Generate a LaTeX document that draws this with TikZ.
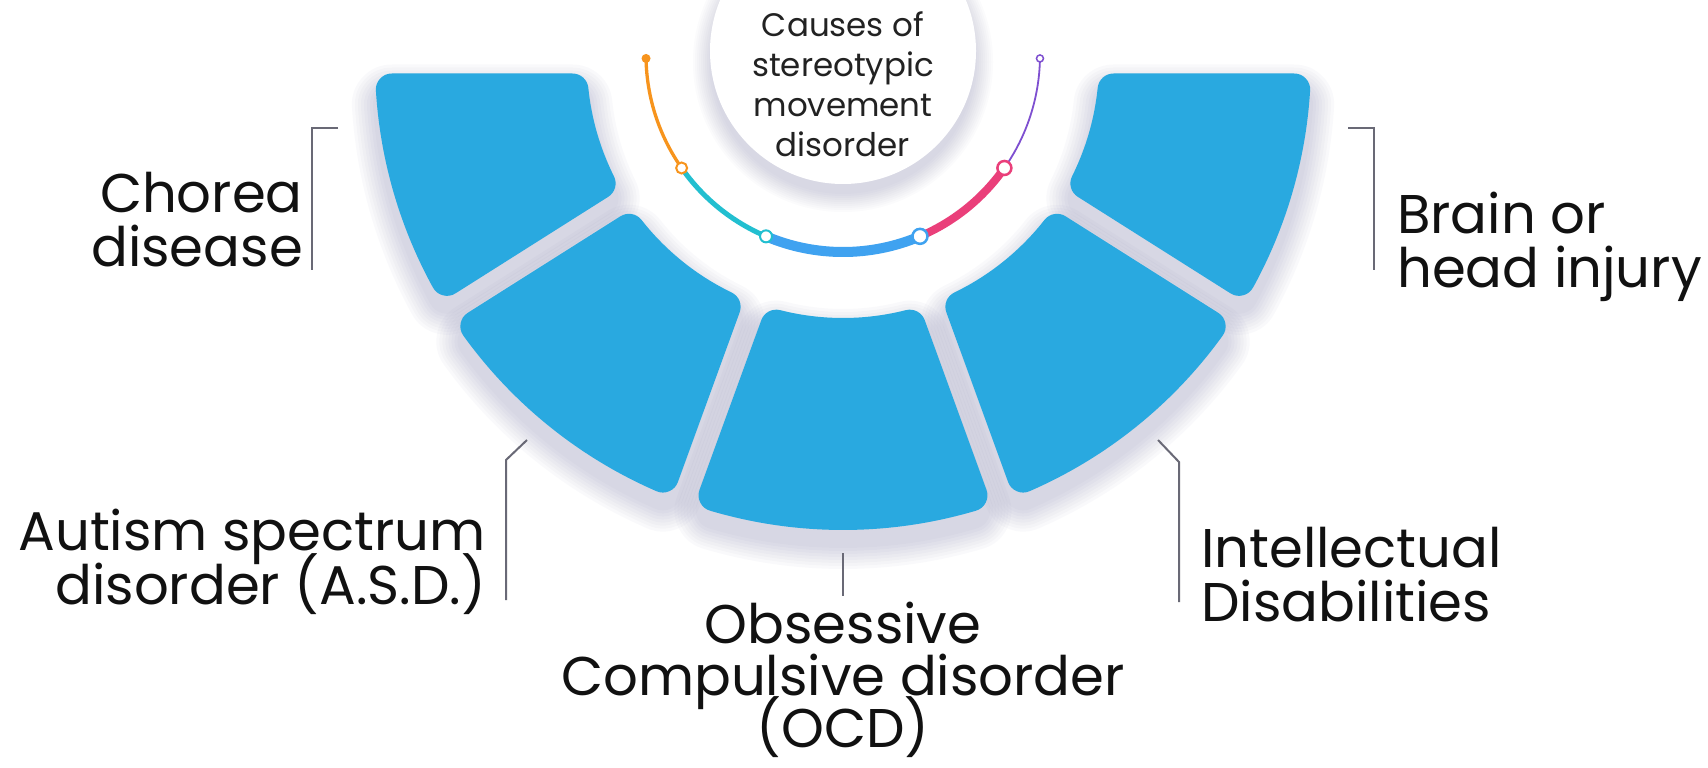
\documentclass[tikz,border=0pt]{standalone}
\usepackage{fontspec}
\setmainfont{Poppins}
\definecolor{segblue}{RGB}{41,169,224}
\definecolor{shadowcol}{RGB}{95,95,150}
\definecolor{labeltext}{RGB}{17,17,17}
\definecolor{centertext}{RGB}{34,34,34}
\definecolor{bracketgray}{RGB}{105,105,118}
\definecolor{orangec}{RGB}{247,148,29}
\definecolor{tealc}{RGB}{34,191,208}
\definecolor{bluec}{RGB}{63,162,240}
\definecolor{pinkc}{RGB}{234,63,122}
\definecolor{purplec}{RGB}{126,79,208}
\newcommand\linesR[1]{\vtop{\lineskiplimit=-100pt\halign{\hfil##\cr#1\crcr}}}
\newcommand\linesL[1]{\vtop{\lineskiplimit=-100pt\halign{##\hfil\cr#1\crcr}}}
\newcommand\linesC[1]{\vtop{\lineskiplimit=-100pt\halign{\hfil##\hfil\cr#1\crcr}}}
\begin{document}
\begin{tikzpicture}[x=1pt,y=-1pt,
  seg/.style={fill=segblue, draw=segblue, line width=32pt, line join=round},
  lbl/.style={inner sep=0pt, text=labeltext, font=\fontsize{54.5}{54}\selectfont},
  bracket/.style={draw=bracketgray, line width=2pt},
  ringdot/.style={circle, fill=white, inner sep=0pt, draw=#1}]
\fill[white] (0,0) rectangle (1708,768);
\useasboundingbox (0,0) rectangle (1708,768);

% ---- central circle with soft shadow
\foreach \k in {1,...,10}{
  \fill[shadowcol, opacity=0.025] (843,62) circle[radius={130+2*\k}];
}
\fill[white] (843,51) circle[radius=133];

% ---- fan segments
\def\cx{843}\def\cy{62}
\pgfmathsetmacro\Ro{468-16}
\pgfmathsetmacro\Ri{256+16}
\def\dd{27.5}
\pgfmathsetmacro\dO{asin(\dd/\Ro)}
\pgfmathsetmacro\dI{asin(\dd/\Ri)}
\def\seglist{147.7/180,110/147.7,70/110,32.3/70,0/32.3}
\foreach \a/\b in \seglist{
  \pgfmathsetmacro\oA{\a+\dO}
  \pgfmathsetmacro\oB{\b-\dO}
  \pgfmathsetmacro\iA{\a+\dI}
  \pgfmathsetmacro\iB{\b-\dI}
  \foreach \k in {1,...,8}{
    \pgfmathsetmacro\lw{32+6*\k}
    \draw[shadowcol, opacity=0.03, line width=\lw pt, line join=round, shift={(0,15)}]
      ([shift={(\cx,\cy)}]\oA:\Ro) arc[start angle=\oA, end angle=\oB, radius=\Ro]
      -- ([shift={(\cx,\cy)}]\iB:\Ri) arc[start angle=\iB, end angle=\iA, radius=\Ri] -- cycle;
  }
}
\foreach \a/\b in \seglist{
  \pgfmathsetmacro\oA{\a+\dO}
  \pgfmathsetmacro\oB{\b-\dO}
  \pgfmathsetmacro\iA{\a+\dI}
  \pgfmathsetmacro\iB{\b-\dI}
  \filldraw[seg]
    ([shift={(\cx,\cy)}]\oA:\Ro) arc[start angle=\oA, end angle=\oB, radius=\Ro]
    -- ([shift={(\cx,\cy)}]\iB:\Ri) arc[start angle=\iB, end angle=\iA, radius=\Ri] -- cycle;
}

% ---- coloured arc
\def\ax{843}\def\ay{55}\def\ar{197}
\draw[orangec, line width=3.3pt] ([shift={(\ax,\ay)}]145:\ar) arc[start angle=145, end angle=179, radius=\ar];
\draw[tealc, line width=5pt] ([shift={(\ax,\ay)}]113:\ar) arc[start angle=113, end angle=145, radius=\ar];
\draw[bluec, line width=10pt] ([shift={(\ax,\ay)}]67:\ar) arc[start angle=67, end angle=113, radius=\ar];
\draw[pinkc, line width=8pt] ([shift={(\ax,\ay)}]35:\ar) arc[start angle=35, end angle=67, radius=\ar];
\draw[purplec, line width=1.8pt] ([shift={(\ax,\ay)}]1:\ar) arc[start angle=1, end angle=35, radius=\ar];
\node[circle, fill=orangec, inner sep=0pt, minimum size=9pt] (m0) at ([shift={(\ax,\ay)}]179:\ar) {};
\node[ringdot=orangec, line width=2pt, minimum size=11pt] (m1) at ([shift={(\ax,\ay)}]145:\ar) {};
\node[ringdot=tealc, line width=2pt, minimum size=12pt] (m2) at ([shift={(\ax,\ay)}]113:\ar) {};
\node[ringdot=bluec, line width=2.5pt, minimum size=15pt] (m3) at ([shift={(\ax,\ay)}]67:\ar) {};
\node[ringdot=pinkc, line width=2.5pt, minimum size=14pt] (m4) at ([shift={(\ax,\ay)}]35:\ar) {};
\node[ringdot=purplec, line width=1.5pt, minimum size=7pt] (m5) at ([shift={(\ax,\ay)}]1:\ar) {};

% ---- centre title
\node[inner sep=0pt, anchor=base, text=centertext, font=\fontsize{32.5}{40}\selectfont] (title) at (843,37)
  {\linesC{Causes of\cr stereotypic\cr movement\cr disorder}};

% ---- labels
\node[lbl, anchor=base east] (chorea) at (303,212) {\linesR{Chorea\cr disease}};
\node[lbl, anchor=base west] (brain) at (1397,233) {\linesL{Brain or\cr head injury}};
\node[lbl, anchor=base east] (autism) at (486,550) {\linesR{Autism spectrum\cr disorder (A.S.D.)}};
\node[lbl, anchor=base, font=\fontsize{54.5}{52}\selectfont] (ocd) at (843,643) {\linesC{Obsessive\cr Compulsive disorder\cr (OCD)}};
\node[lbl, anchor=base west] (intel) at (1201,567) {\linesL{Intellectual\cr Disabilities}};

% ---- brackets
\coordinate (c1a) at (338,128); \coordinate (c1b) at (312,128); \coordinate (c1c) at (312,270);
\draw[bracket] (c1a) -- (c1b) -- (c1c);
\coordinate (b1a) at (1348,128); \coordinate (b1b) at (1374,128); \coordinate (b1c) at (1374,270);
\draw[bracket] (b1a) -- (b1b) -- (b1c);
\coordinate (a1a) at (527,440); \coordinate (a1b) at (506,460); \coordinate (a1c) at (506,600);
\draw[bracket] (a1a) -- (a1b) -- (a1c);
\coordinate (o1a) at (843,553); \coordinate (o1b) at (843,596);
\draw[bracket] (o1a) -- (o1b);
\coordinate (i1a) at (1158,440); \coordinate (i1b) at (1179,462); \coordinate (i1c) at (1179,602);
\draw[bracket] (i1a) -- (i1b) -- (i1c);
\end{tikzpicture}
\end{document}
